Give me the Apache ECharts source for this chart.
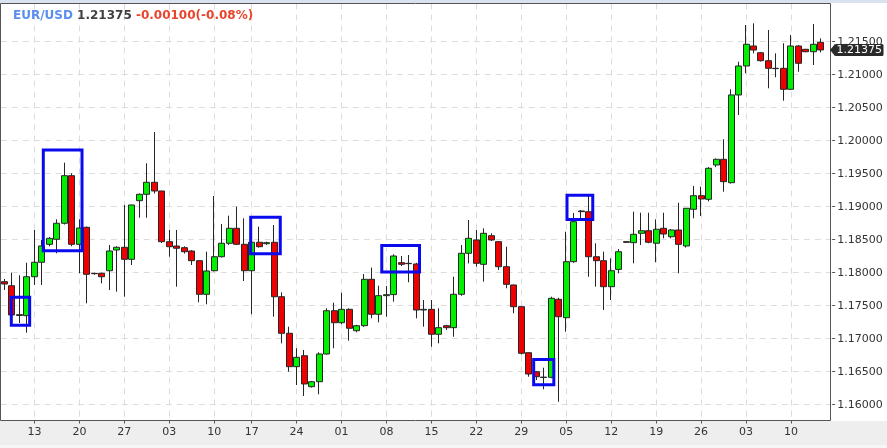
<!DOCTYPE html>
<html><head><meta charset="utf-8">
<script src="https://cdn.jsdelivr.net/npm/echarts@6/dist/echarts.min.js"></script>
<style>html,body{margin:0;padding:0;background:#fff}#c{width:887px;height:448px}</style>
</head><body><div id="c"></div>
<script>
const symbolName = 'EUR/USD';
const lastPrice = 1.21375;
const changeText = '-0.00100(-0.08%)';

const opens = [1.17864,1.17803,1.17364,1.17349,1.17939,1.18158,1.18430,1.18506,1.18749,1.19470,
1.18430,1.18688,1.17990,1.17991,1.18030,1.18344,1.18385,1.18203,1.19091,1.19188,
1.19370,1.19238,1.18470,1.18404,1.18379,1.18329,1.18182,1.17673,1.18030,1.18242,
1.18446,1.18673,1.18430,1.18030,1.18461,1.18440,1.18461,1.17636,1.17082,1.16576,
1.16742,1.16273,1.16348,1.16768,1.17424,1.17242,1.17445,1.17121,1.17197,1.17900,
1.17370,1.17652,1.17668,1.18152,1.18142,1.18132,1.17435,1.17445,1.17067,1.17197,
1.17167,1.17673,1.18294,1.18496,1.18127,1.18561,1.18470,1.18091,1.17814,1.17485,
1.16788,1.16500,1.16418,1.16415,1.17597,1.17318,1.18167,1.18935,1.18924,1.18242,
1.18182,1.17788,1.18050,1.18470,1.18455,1.18597,1.18636,1.18446,1.18673,1.18545,
1.18647,1.18405,1.18961,1.19167,1.19112,1.19632,1.19718,1.19364,1.20693,1.21132,
1.21435,1.21333,1.21212,1.21097,1.21097,1.20779,1.21435,1.21385,1.21348,1.21491];
const closes = [1.17829,1.17359,1.17352,1.17939,1.18158,1.18405,1.18521,1.18749,1.19470,1.18430,
1.18677,1.17976,1.17985,1.17939,1.18329,1.18385,1.18203,1.19026,1.19188,1.19370,
1.19238,1.18470,1.18394,1.18370,1.18318,1.18182,1.17673,1.18026,1.18242,1.18446,
1.18673,1.18430,1.18030,1.18461,1.18394,1.18455,1.17636,1.17082,1.16576,1.16718,
1.16314,1.16348,1.16768,1.17424,1.17242,1.17445,1.17158,1.17197,1.17900,1.17370,
1.17652,1.17667,1.18253,1.18127,1.18137,1.17435,1.17445,1.17067,1.17167,1.17167,
1.17673,1.18294,1.18521,1.18142,1.18597,1.18496,1.18091,1.17824,1.17485,1.16779,
1.16465,1.16424,1.16412,1.17612,1.17333,1.18167,1.18773,1.18925,1.18242,1.18182,
1.17788,1.18030,1.18318,1.18460,1.18582,1.18636,1.18461,1.18658,1.18586,1.18647,
1.18430,1.18976,1.19167,1.19117,1.19582,1.19718,1.19379,1.20693,1.21132,1.21461,
1.21374,1.21212,1.21097,1.21092,1.20779,1.21435,1.21173,1.21348,1.21461,1.21375];
const lows = [1.17738,1.17344,1.17238,1.17091,1.17814,1.17814,1.18400,1.18294,1.18730,1.18400,
1.17991,1.17536,1.17970,1.17839,1.17738,1.17712,1.17636,1.18117,1.18833,1.18833,
1.19200,1.18450,1.18242,1.17788,1.18290,1.18117,1.17552,1.17521,1.18020,1.18230,
1.18420,1.18420,1.17874,1.17370,1.18380,1.18420,1.17333,1.16930,1.16500,1.16298,
1.16132,1.16260,1.16158,1.16760,1.16855,1.17220,1.16970,1.17097,1.17180,1.17309,
1.17248,1.17333,1.17561,1.18100,1.17855,1.17309,1.17182,1.16879,1.16930,1.17132,
1.17030,1.17650,1.18142,1.18091,1.17864,1.18480,1.18041,1.17764,1.17385,1.16760,
1.16424,1.16374,1.16233,1.16400,1.16045,1.17106,1.18150,1.18829,1.17939,1.17788,
1.17435,1.17586,1.17991,1.18450,1.18142,1.18420,1.18446,1.18158,1.18521,1.18520,
1.17991,1.18380,1.18824,1.18859,1.19080,1.19600,1.19227,1.19350,1.20389,1.21021,
1.21324,1.21200,1.20794,1.20961,1.20606,1.20770,1.21045,1.21340,1.21147,1.21339];
const highs = [1.17905,1.18000,1.17961,1.18152,1.18647,1.18496,1.18540,1.18809,1.19667,1.19506,
1.18809,1.18700,1.18000,1.18000,1.18420,1.18400,1.19026,1.19030,1.19200,1.19658,
1.20132,1.19240,1.18647,1.18647,1.18400,1.18340,1.18190,1.18318,1.19162,1.18738,
1.18864,1.19000,1.18824,1.18500,1.18697,1.18470,1.18723,1.17703,1.17182,1.16855,
1.16829,1.16360,1.16794,1.17461,1.17545,1.17697,1.17460,1.17210,1.17980,1.18076,
1.17803,1.17798,1.18279,1.18253,1.18268,1.18150,1.17586,1.17586,1.17461,1.17210,
1.17939,1.18420,1.18799,1.18647,1.18673,1.18597,1.18480,1.18394,1.17820,1.17490,
1.16790,1.16510,1.16561,1.17636,1.17620,1.18621,1.18905,1.18950,1.19177,1.18446,
1.18318,1.18218,1.18359,1.18480,1.18924,1.18909,1.18909,1.18809,1.18909,1.18660,
1.19061,1.18980,1.19314,1.19303,1.19600,1.19730,1.20021,1.20779,1.21197,1.21753,
1.21779,1.21340,1.21677,1.21324,1.21476,1.21602,1.21450,1.21390,1.21768,1.21551];

const tickIndex = [4,10,16,22,28,33,39,45,51,57,63,69,75,81,87,93,99,105];
const tickLabels = ['13','20','27','03','10','17','24','01','08','15','22','29','05','12','19','26','03','10'];

const yMin = 1.16, yMax = 1.22, yStep = 0.005;

// highlight boxes: [fromIndex, toIndex, topValue, bottomValue]
const boxFrom = [0.91, 5.18, 32.87, 50.37, 70.65, 75.10];
const boxTo   = [3.36, 10.35, 36.82, 55.41, 73.34, 78.54];
const boxTop  = [1.17629, 1.19859, 1.18841, 1.18412, 1.16685, 1.19174];
const boxBot  = [1.17203, 1.18333, 1.18286, 1.18011, 1.16303, 1.18806];

const n = opens.length;
const candles = opens.map((o, i) => [o, closes[i], lows[i], highs[i]]);
const catsA = opens.map((_, i) => String(i)); catsA.push('pad');
const catsB = opens.map((_, i) => String(i));
const labelMap = {}; tickIndex.forEach((t, k) => labelMap[t] = tickLabels[k]);
const isTick = (i) => labelMap[i] !== undefined;

const band = 7.49;
const chart = echarts.init(document.getElementById('c'), null, {renderer: 'canvas'});
const font = 'DejaVu Sans';
chart.setOption({
  animation: false,
  backgroundColor: '#ffffff',
  title: {
    left: 13, top: 10, padding: 0,
    text: '{a|' + symbolName + '} {b|' + lastPrice.toFixed(5) + '} {c|' + changeText + '}',
    textStyle: {fontFamily: font, fontSize: 12, fontWeight: 'bold', color: '#444',
      rich: {
        a: {fontFamily: font, fontSize: 12, fontWeight: 'bold', color: '#5b8def'},
        b: {fontFamily: font, fontSize: 12, fontWeight: 'bold', color: '#404040'},
        c: {fontFamily: font, fontSize: 12, fontWeight: 'bold', color: '#e8452c'}
      }}
  },
  grid: [
    {left: 0.75, width: band * (n + 1), top: 8.7, height: 396, outerBoundsMode: 'none', containLabel: false},
    {left: 4.5, width: band * (n - 1), top: 3.5, height: 417, outerBoundsMode: 'none', containLabel: false}
  ],
  xAxis: [
    {type: 'category', gridIndex: 0, data: catsA, boundaryGap: true, show: false},
    {type: 'category', gridIndex: 1, data: catsB, boundaryGap: false,
      axisLine: {show: false},
      axisTick: {show: true, length: 3, interval: (i) => isTick(i), lineStyle: {color: '#555'}},
      axisLabel: {interval: (i) => isTick(i), formatter: (v) => labelMap[+v] || '', margin: 6,
        color: '#333', fontSize: 11, fontFamily: font, hideOverlap: false},
      splitLine: {show: true, interval: (i) => isTick(i), lineStyle: {color: '#dcdcdc', width: 1, type: [6, 5]}}
    }
  ],
  yAxis: [
    {type: 'value', gridIndex: 0, position: 'right', min: yMin, max: yMax, interval: yStep,
      axisLine: {show: false},
      axisTick: {show: true, length: 3, lineStyle: {color: '#555'}},
      axisLabel: {margin: 5, color: '#333', fontSize: 11, fontFamily: font,
        formatter: (v) => v.toFixed(5), showMaxLabel: false, showMinLabel: true},
      splitLine: {show: true, showMaxLine: false, showMinLine: true, lineStyle: {color: '#dcdcdc', width: 1, type: [6, 5]}}
    },
    {type: 'value', gridIndex: 1, show: false}
  ],
  series: [{
    type: 'candlestick', xAxisIndex: 0, yAxisIndex: 0, data: candles,
    barWidth: 6.5, silent: true,
    itemStyle: {color: '#00f000', color0: '#f00000', borderColor: '#262626', borderColor0: '#262626', borderWidth: 1}
  }]
});

// annotations computed through the chart's own scales
function px(f, v) {
  const i = Math.floor(f);
  const p = chart.convertToPixel({xAxisIndex: 0, yAxisIndex: 0}, [i, v]);
  const p1 = chart.convertToPixel({xAxisIndex: 0, yAxisIndex: 0}, [i + 1, v]);
  return [p[0] + (f - i) * (p1[0] - p[0]), p[1]];
}
const elements = [
  {type: 'rect', z: -1, silent: true, shape: {x: 0, y: 0, width: 887, height: 3}, style: {fill: '#d8e3ef'}},
  {type: 'rect', z: -1, silent: true, shape: {x: 0, y: 421, width: 887, height: 27}, style: {fill: '#eeeeee'}},
  {type: 'rect', z: -1, silent: true, shape: {x: 0, y: 445, width: 887, height: 3}, style: {fill: '#f6f6f6'}},
  {type: 'rect', z: 50, silent: true, shape: {x: 0.5, y: 3.5, width: 830, height: 417}, style: {fill: null, stroke: '#555', lineWidth: 1}}
];
for (let k = 0; k < boxFrom.length; k++) {
  const a = px(boxFrom[k], boxTop[k]);
  const b = px(boxTo[k], boxBot[k]);
  elements.push({type: 'rect', z: 100, silent: true,
    shape: {x: a[0], y: a[1], width: b[0] - a[0], height: b[1] - a[1]},
    style: {fill: null, stroke: '#0a0aee', lineWidth: 3}});
}
const tagY = chart.convertToPixel({yAxisIndex: 0}, lastPrice);
elements.push({type: 'polygon', z: 110, silent: true, shape: {points: [[830, tagY], [835, tagY - 6], [835, tagY + 6]]}, style: {fill: '#2a2a2a'}});
elements.push({type: 'rect', z: 110, silent: true, shape: {x: 834.5, y: tagY - 6, width: 49, height: 12, r: 1.5}, style: {fill: '#2a2a2a'}});
elements.push({type: 'text', z: 111, silent: true, x: 836.5, y: tagY + 0.5,
  style: {text: lastPrice.toFixed(5), fill: '#ffffff', font: '11px "DejaVu Sans"', textVerticalAlign: 'middle', textAlign: 'left'}});
chart.setOption({graphic: {elements: elements}});
</script></body></html>
